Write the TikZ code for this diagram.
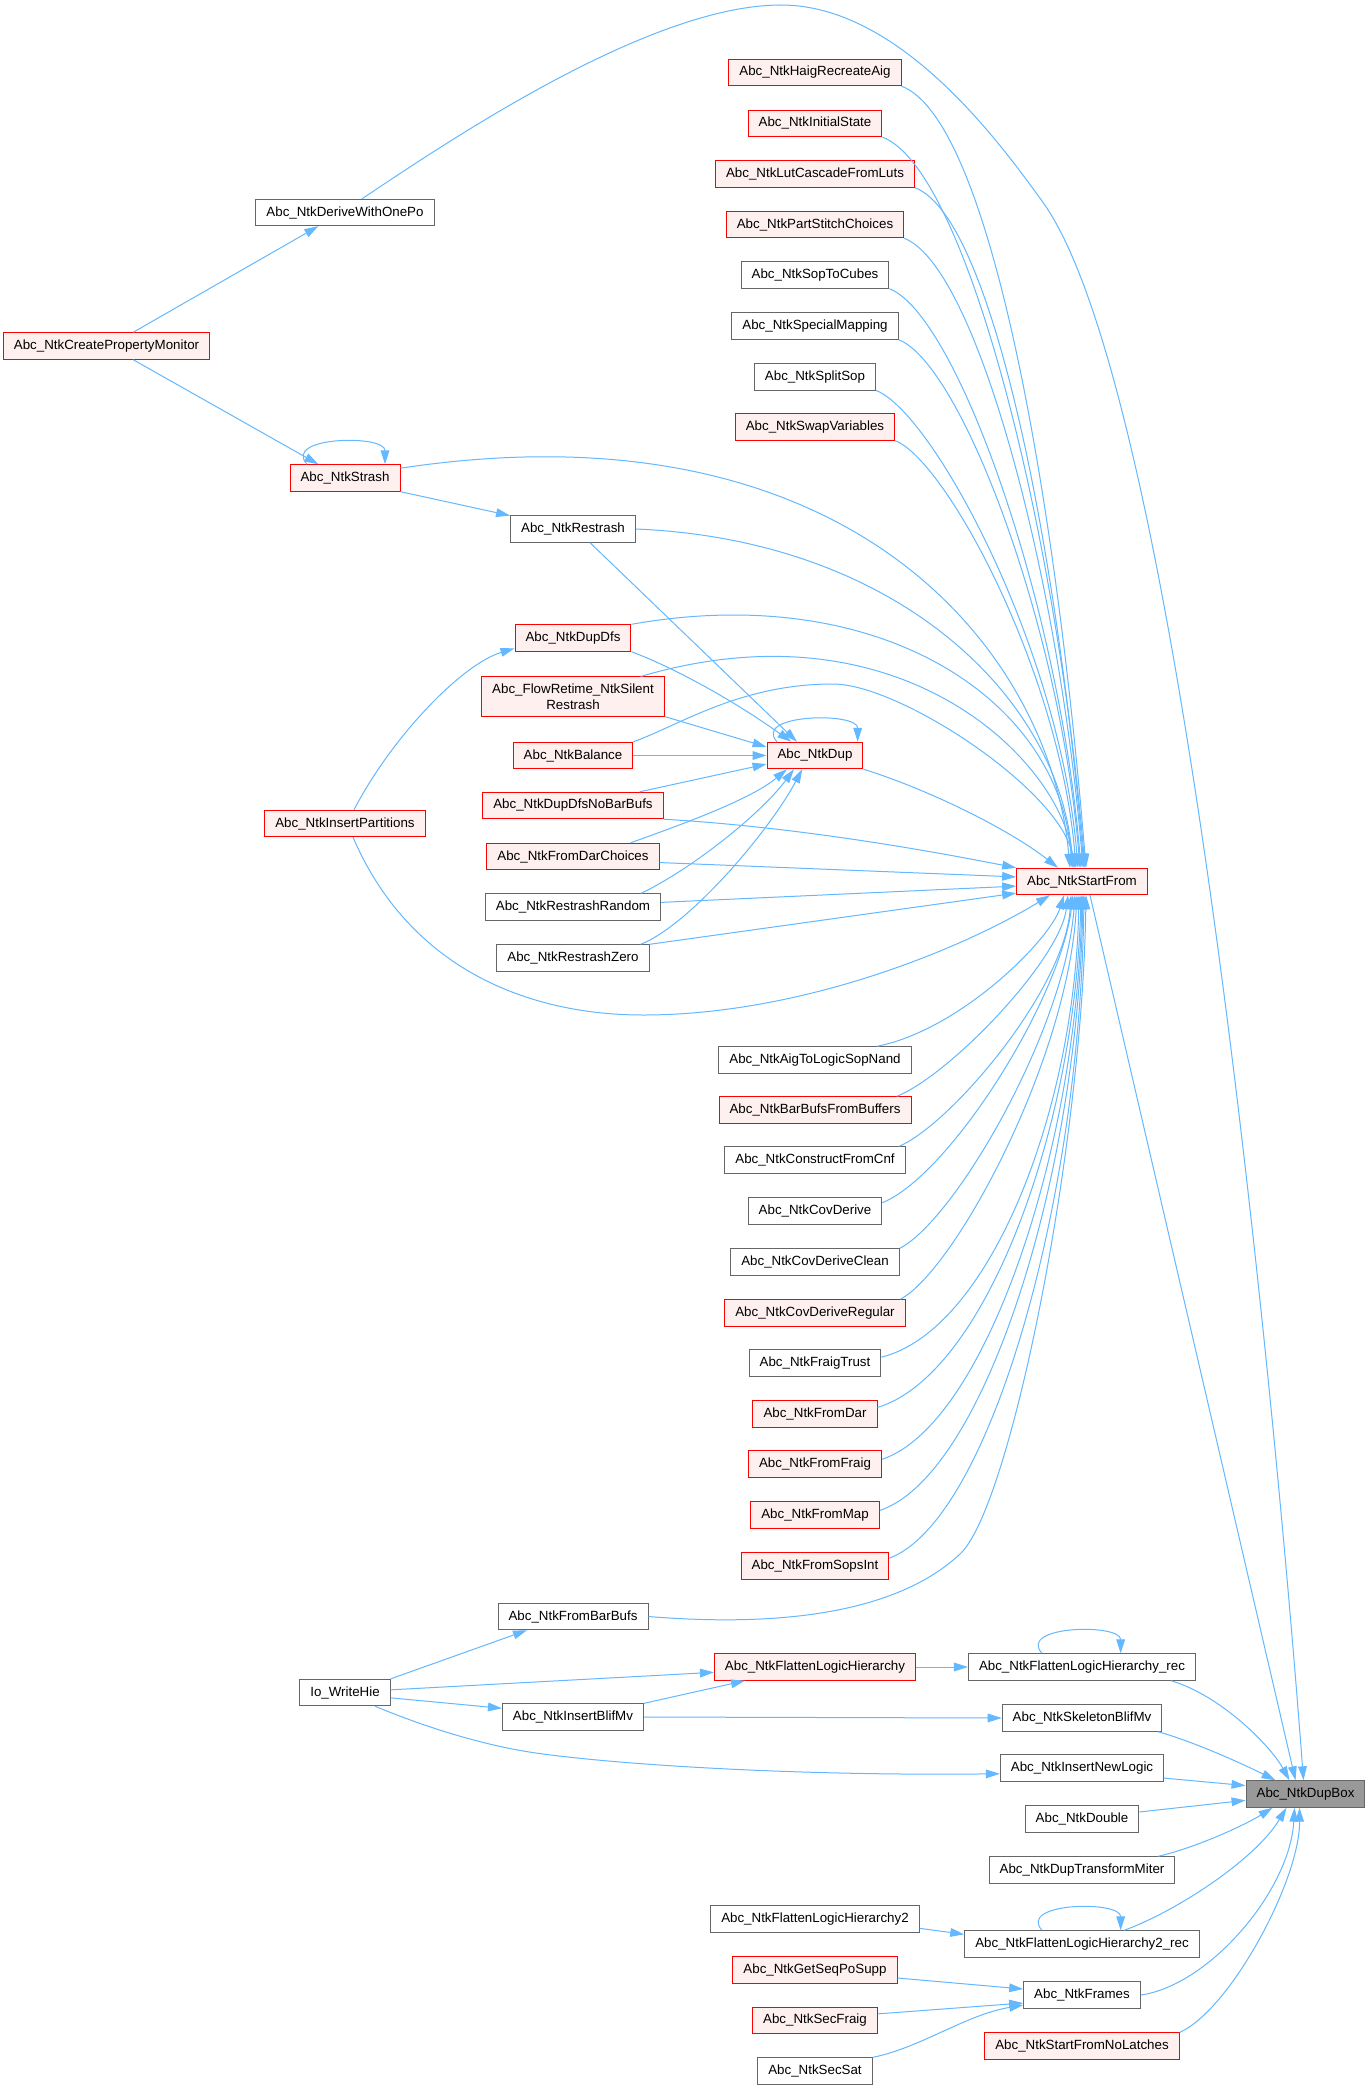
\documentclass[tikz,border=0pt]{standalone}
\usepackage{fontspec}
\setmainfont{Liberation Sans}
\usetikzlibrary{arrows.meta}
\definecolor{edgeblue}{HTML}{63B8FF}
\definecolor{fnline}{HTML}{666666}
\definecolor{fnpink}{HTML}{FFF0F0}
\definecolor{fnroot}{HTML}{999999}
\begin{document}
\begin{tikzpicture}[x=0.75pt,y=-0.75pt,
 fn/.style={rectangle,draw=fnline,fill=white,line width=0.75pt,minimum height=19.8pt,
            inner xsep=7.9pt,inner ysep=5pt,align=center,font=\fontsize{10}{12}\selectfont},
 fnred/.style={fn,draw=red,fill=fnpink},
 fnbase/.style={fn,fill=fnroot},
 call/.style={draw=edgeblue,line width=0.75pt,-{Triangle[length=10.5pt,width=6.5pt]}}]
\useasboundingbox (0,0) rectangle (1371,2090);
\fill[white] (0,0) rectangle (1371,2090);
\node[fnred] (cpm) at (106.5,346) {Abc\_NtkCreatePropertyMonitor};
\node[fn] (dwop) at (345,212.5) {Abc\_NtkDeriveWithOnePo};
\node[fnred] (strash) at (345,478) {Abc\_NtkStrash};
\node[fnred] (insp) at (345,823.5) {Abc\_NtkInsertPartitions};
\node[fn] (iowh) at (345,1692.5) {Io\_WriteHie};
\node[fn] (restrash) at (573,529) {Abc\_NtkRestrash};
\node[fnred] (dupdfs) at (573,638) {Abc\_NtkDupDfs};
\node[fnred] (flowrt) at (573,696.5) {Abc\_FlowRetime\_NtkSilent\\Restrash};
\node[fnred] (balance) at (573,755.5) {Abc\_NtkBalance};
\node[fnred] (dupnbb) at (573,805.5) {Abc\_NtkDupDfsNoBarBufs};
\node[fnred] (fdchoice) at (573,856.5) {Abc\_NtkFromDarChoices};
\node[fn] (rsrand) at (573,907) {Abc\_NtkRestrashRandom};
\node[fn] (rszero) at (573,958) {Abc\_NtkRestrashZero};
\node[fn] (frombb) at (573,1616.5) {Abc\_NtkFromBarBufs};
\node[fn] (insblif) at (573,1717) {Abc\_NtkInsertBlifMv};
\node[fnred] (haig) at (815,72.5) {Abc\_NtkHaigRecreateAig};
\node[fnred] (initst) at (815,123.4) {Abc\_NtkInitialState};
\node[fnred] (lutcasc) at (815,174) {Abc\_NtkLutCascadeFromLuts};
\node[fnred] (partst) at (815,224.6) {Abc\_NtkPartStitchChoices};
\node[fn] (soptoc) at (815,275) {Abc\_NtkSopToCubes};
\node[fn] (specmap) at (815,326) {Abc\_NtkSpecialMapping};
\node[fn] (splitsop) at (815,376.8) {Abc\_NtkSplitSop};
\node[fnred] (swapvar) at (815,427) {Abc\_NtkSwapVariables};
\node[fnred] (ntkdup) at (815,755.5) {Abc\_NtkDup};
\node[fn] (aigsop) at (815,1060) {Abc\_NtkAigToLogicSopNand};
\node[fnred] (barbufs) at (815,1110) {Abc\_NtkBarBufsFromBuffers};
\node[fn] (cnf) at (815,1160) {Abc\_NtkConstructFromCnf};
\node[fn] (covd) at (815,1211) {Abc\_NtkCovDerive};
\node[fn] (covdc) at (815,1262) {Abc\_NtkCovDeriveClean};
\node[fnred] (covdr) at (815,1313) {Abc\_NtkCovDeriveRegular};
\node[fn] (fraigt) at (815,1363) {Abc\_NtkFraigTrust};
\node[fnred] (fromdar) at (815,1414) {Abc\_NtkFromDar};
\node[fnred] (fromfraig) at (815,1464) {Abc\_NtkFromFraig};
\node[fnred] (frommap) at (815,1515) {Abc\_NtkFromMap};
\node[fnred] (fromsops) at (815,1566) {Abc\_NtkFromSopsInt};
\node[fnred] (flh) at (815,1667) {Abc\_NtkFlattenLogicHierarchy};
\node[fn] (flh2) at (815,1919) {Abc\_NtkFlattenLogicHierarchy2};
\node[fnred] (gsps) at (815,1970) {Abc\_NtkGetSeqPoSupp};
\node[fnred] (secfraig) at (815,2020.5) {Abc\_NtkSecFraig};
\node[fn] (secsat) at (815,2071) {Abc\_NtkSecSat};
\node[fnred] (sf) at (1082,881.5) {Abc\_NtkStartFrom};
\node[fn] (flhrec) at (1082,1667) {Abc\_NtkFlattenLogicHierarchy\_rec};
\node[fn] (skel) at (1082,1718) {Abc\_NtkSkeletonBlifMv};
\node[fn] (inl) at (1082,1768) {Abc\_NtkInsertNewLogic};
\node[fn] (dbl) at (1082,1819) {Abc\_NtkDouble};
\node[fn] (dtm) at (1082,1870) {Abc\_NtkDupTransformMiter};
\node[fn] (flh2rec) at (1082,1944) {Abc\_NtkFlattenLogicHierarchy2\_rec};
\node[fn] (frames) at (1082,1995) {Abc\_NtkFrames};
\node[fnred] (sfnl) at (1082,2046) {Abc\_NtkStartFromNoLatches};
\node[fnbase] (dupbox) at (1305.5,1794) {Abc\_NtkDupBox};
\draw[call] ([xshift=12.75pt]dwop.north) .. controls (450,140) and (650,5) .. (781,5)
  .. controls (900,5) and (1000,143) .. (1042,201)
  .. controls (1180,390) and (1275,1400) .. ([xshift=-1.5pt]dupbox.north);
\draw[call] ([xshift=20pt]cpm.north) -- ([xshift=-20pt]dwop.south);
\draw[call] ([xshift=20pt]cpm.south) -- ([xshift=-20pt]strash.north);
\draw[call] ([xshift=-28.5pt]strash.north) .. controls +(-25,-28) and +(0,-30) .. ([xshift=30pt]strash.north);
\draw[call] (strash.10) .. controls (850,400) and (1050,650) .. ([xshift=-9pt]sf.north);
\draw[call] (strash.south east) -- (restrash.168);
\draw[call] (restrash.east) .. controls (900,540) and (1060,700) .. ([xshift=-6.75pt]sf.north);
\draw[call] ([xshift=12.75pt]restrash.south) -- ([xshift=-13.5pt]ntkdup.north);
\draw[call] (haig.south east) .. controls +(91,35) and +(-29,-356) .. ([xshift=3pt]sf.north);
\draw[call] (initst.south east) .. controls +(85,32) and +(-28,-333) .. ([xshift=2.25pt]sf.north);
\draw[call] (lutcasc.south east) .. controls +(79,30) and +(-26,-310) .. ([xshift=1.5pt]sf.north);
\draw[call] (partst.south east) .. controls +(73,28) and +(-24,-288) .. ([xshift=0.75pt]sf.north);
\draw[call] (soptoc.south east) .. controls +(67,26) and +(-22,-265) .. ([xshift=-0.75pt]sf.north);
\draw[call] (specmap.south east) .. controls +(62,24) and +(-20,-243) .. ([xshift=-1.5pt]sf.north);
\draw[call] (splitsop.south east) .. controls +(56,21) and +(-18,-220) .. ([xshift=-3pt]sf.north);
\draw[call] (swapvar.south east) .. controls +(50,19) and +(-16,-197) .. ([xshift=-4.5pt]sf.north);
\draw[call] (dupdfs.north east) .. controls (880,580) and (1060,700) .. ([xshift=-7.5pt]sf.north);
\draw[call] (dupdfs.south east) .. controls (680,670) and (740,705) .. (ntkdup.150);
\draw[call] ([xshift=-18pt]flowrt.north east) .. controls (900,600) and (1060,760) .. ([xshift=-6pt]sf.north);
\draw[call] (flowrt.south east) -- (ntkdup.170);
\draw[call] (balance.north east) .. controls (680,725) and (740,684) .. (833,684)
  .. controls (900,684) and (1060,790) .. ([xshift=-5.25pt]sf.north);
\draw[call] (balance.east) -- (ntkdup.west);
\draw[call] ([xshift=-18pt]dupnbb.north east) -- (ntkdup.190);
\draw[call] (dupnbb.south east) .. controls (780,826) and (900,845) .. (sf.north west);
\draw[call] ([xshift=-21.75pt]fdchoice.north east) .. controls (680,825) and (750,800) .. (ntkdup.206);
\draw[call] (fdchoice.-4) -- (sf.176);
\draw[call] ([xshift=-15pt]rsrand.north east) .. controls (690,870) and (760,815) .. (ntkdup.213);
\draw[call] (rsrand.3) -- (sf.184);
\draw[call] ([xshift=-6.75pt]rszero.north east) .. controls (690,925) and (770,830) .. (ntkdup.227);
\draw[call] (rszero.north east) -- (sf.190);
\draw[call] ([xshift=6.75pt]insp.north) .. controls (390,740) and (460,665) .. (dupdfs.190);
\draw[call] ([xshift=6pt]insp.south) .. controls (410,970) and (530,1015) .. (643,1015)
  .. controls (800,1015) and (960,950) .. ([xshift=-24pt]sf.south);
\draw[call] ([xshift=-28.5pt]ntkdup.north) .. controls +(-25,-28) and +(0,-30) .. ([xshift=32pt]ntkdup.north);
\draw[call] (ntkdup.south east) .. controls (930,790) and (1010,830) .. ([xshift=-18pt]sf.north);
\draw[call] ([xshift=-26pt]aigsop.north east) .. controls (960,1030) and (1050,940) .. ([xshift=-13.5pt]sf.south);
\draw[call] ([xshift=-11pt]barbufs.north east) .. controls (950,1075) and (1060,960) .. ([xshift=-10.5pt]sf.south);
\draw[call] ([xshift=-5pt]cnf.north east) .. controls (950,1125) and (1065,990) .. ([xshift=-8.25pt]sf.south);
\draw[call] (covd.7) .. controls (950,1175) and (1060,1000) .. ([xshift=-6.75pt]sf.south);
\draw[call] (covdc.north east) .. controls (955,1220) and (1065,1030) .. ([xshift=-5.25pt]sf.south);
\draw[call] ([xshift=-4pt]covdr.north east) .. controls (955,1270) and (1068,1060) .. ([xshift=-3.75pt]sf.south);
\draw[call] (fraigt.5) .. controls (990,1330) and (1075,1110) .. ([xshift=-2.25pt]sf.south);
\draw[call] (fromdar.6) .. controls (985,1375) and (1075,1130) .. ([xshift=-0.75pt]sf.south);
\draw[call] (fromfraig.4) .. controls (985,1425) and (1077,1150) .. (sf.south);
\draw[call] (frommap.4) .. controls (985,1475) and (1078,1175) .. ([xshift=0.75pt]sf.south);
\draw[call] (fromsops.6) .. controls (990,1520) and (1080,1200) .. ([xshift=1.5pt]sf.south);
\draw[call] (frombb.east) .. controls (790,1628) and (900,1610) .. (960,1554)
  .. controls (1010,1508) and (1082,1150) .. ([xshift=3pt]sf.south);
\draw[call] ([xshift=6pt]sf.south) -- ([xshift=-7.5pt]dupbox.north);
\draw[call] (iowh.north east) -- ([xshift=-34.5pt]frombb.south);
\draw[call] ([yshift=2pt]iowh.east) -- (flh.183);
\draw[call] ([yshift=-4pt]iowh.east) -- (insblif.173);
\draw[call] ([xshift=22.5pt]iowh.south) .. controls (420,1725) and (480,1745) .. (536,1753)
  .. controls (620,1765) and (800,1776) .. (inl.184);
\draw[call] (insblif.north east) -- ([xshift=-52.5pt]flh.south);
\draw[call] (insblif.east) -- (skel.west);
\draw[call] (flh.east) -- (flhrec.west);
\draw[call] ([xshift=-30pt]flhrec.north) .. controls +(-25,-28) and +(0,-30) .. ([xshift=29pt]flhrec.north);
\draw[call] ([xshift=66.75pt]flhrec.south) .. controls (1220,1695) and (1270,1745) .. ([xshift=-12pt]dupbox.north);
\draw[call] ([xshift=57pt]skel.south) .. controls (1195,1742) and (1245,1765) .. ([xshift=-22.5pt]dupbox.north);
\draw[call] (inl.-7) -- (dupbox.172);
\draw[call] (dbl.7) -- (dupbox.186);
\draw[call] ([xshift=57pt]dtm.north) .. controls (1195,1848) and (1245,1825) .. ([xshift=-24.75pt]dupbox.south);
\draw[call] ([yshift=-7pt]flh2.east) -- ([yshift=-3pt]flh2rec.north west);
\draw[call] ([xshift=-30pt]flh2rec.north) .. controls +(-25,-28) and +(0,-30) .. ([xshift=29pt]flh2rec.north);
\draw[call] ([xshift=31.5pt]flh2rec.north) .. controls (1175,1912) and (1255,1860) .. ([xshift=-14.25pt]dupbox.south);
\draw[call] ([yshift=-6pt]gsps.east) -- ([yshift=4.5pt]frames.west);
\draw[call] ([yshift=5pt]secfraig.east) -- ([yshift=-6pt]frames.west);
\draw[call] (secsat.north east) .. controls (920,2048) and (965,2015) .. ([yshift=-7.5pt]frames.west);
\draw[call] (frames.east) .. controls (1210,1985) and (1290,1890) .. ([xshift=-8.25pt]dupbox.south);
\draw[call] (sfnl.north east) .. controls (1230,2010) and (1300,1880) .. ([xshift=-4.5pt]dupbox.south);
\end{tikzpicture}
\end{document}
